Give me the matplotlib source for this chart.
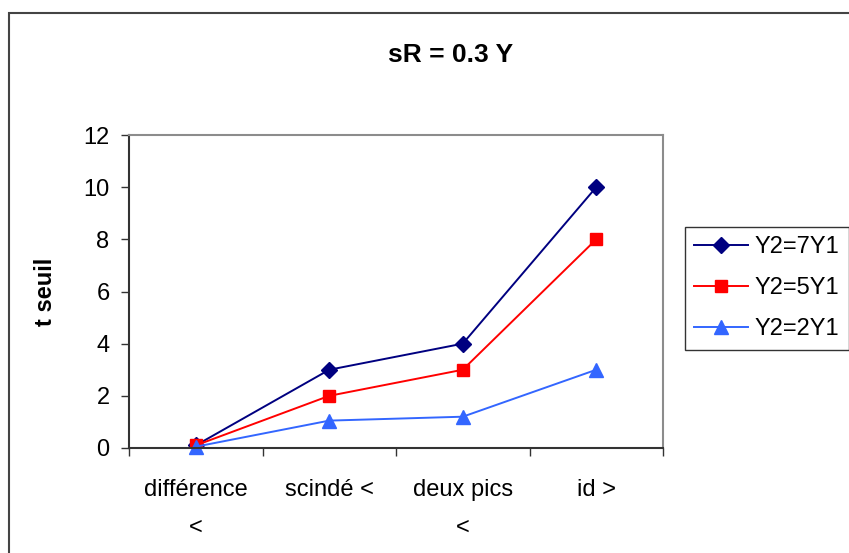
import matplotlib.pyplot as plt
from matplotlib.patches import Rectangle

plt.rcParams['font.family'] = ['Liberation Sans', 'DejaVu Sans']

categories = ['différence\n<', 'scindé <', 'deux pics\n<', 'id >']
y7 = [0.1, 3, 4, 10]
y5 = [0.1, 2, 3, 8]
y2 = [0.05, 1.05, 1.2, 3]

fig = plt.figure(figsize=(8.49, 5.53), dpi=100)
ax = fig.add_axes([129/849, 1 - 448/553, (663 - 129)/849, (448 - 135)/553])

x = list(range(len(categories)))
ax.plot(x, y7, color='#000080', lw=1.4, marker='D', ms=8.5, label='Y2=7Y1')
ax.plot(x, y5, color='#FF0000', lw=1.4, marker='s', ms=8.5, label='Y2=5Y1')
ax.plot(x, y2, color='#3366FF', lw=1.4, marker='^', ms=10, label='Y2=2Y1', clip_on=False)

ax.set_xlim(-0.5, 3.5)
ax.set_ylim(0, 12)
ax.set_yticks(range(0, 13, 2))
ax.set_xticks([-0.5, 0.5, 1.5, 2.5, 3.5])
ax.set_xticklabels([])
ax.set_xticks(x, minor=True)
ax.set_xticklabels(categories, minor=True, linespacing=1.95, va='top')
ax.tick_params(axis='x', which='minor', length=0, pad=22, labelsize=17)
ax.tick_params(axis='x', which='major', direction='out', length=6, width=1, color='#333333')
ax.tick_params(axis='y', direction='out', length=6, width=1, color='#333333', labelsize=17, pad=8)

for side in ['top', 'right']:
    ax.spines[side].set_color('#8c8c8c')
    ax.spines[side].set_linewidth(1.5)
for side in ['left', 'bottom']:
    ax.spines[side].set_color('#333333')
    ax.spines[side].set_linewidth(1.5)

ax.set_ylabel('t seuil', fontsize=17, fontweight='bold', labelpad=19)
fig.text(451/849, 1 - 55/553, 'sR = 0.3 Y', ha='center', va='center',
         fontsize=19, fontweight='bold')

leg = fig.legend(loc='upper left', bbox_to_anchor=(685/849, 1 - 227/553),
                 fontsize=17, frameon=True, fancybox=False, borderaxespad=0,
                 handlelength=2.25, labelspacing=0.8, handletextpad=0.3,
                 borderpad=0.4)
leg.get_frame().set_edgecolor('black')
leg.get_frame().set_linewidth(1)

# outer chart border, clipped at the right and bottom edges
fig.patches.append(Rectangle((9/849, -0.2), 2, 1.2 - 13/553, transform=fig.transFigure,
                             fill=False, edgecolor='#444444', lw=1.5))

fig.savefig('out.png', dpi=100)
